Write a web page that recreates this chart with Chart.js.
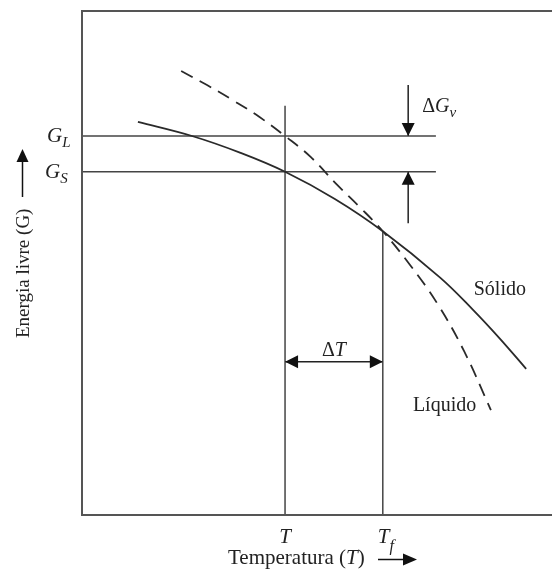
<!DOCTYPE html>
<html>
<head>
<meta charset="utf-8">
<script src="https://cdn.jsdelivr.net/npm/chart.js@4.4.1/dist/chart.umd.min.js"></script>
<style>
  html, body { margin: 0; padding: 0; background: #fff; overflow: hidden; }
</style>
</head>
<body>
<canvas id="chart" width="552" height="569"></canvas>
<script>
// free energy curves (T on x, G on y, arbitrary 0-100 units)
const solidT  = [11.9, 23.4, 33.6, 43.2, 53.8, 64.0, 76.2, 83.2, 88.9, 94.5];
const solidG  = [78.0, 75.2, 71.9, 68.1, 62.7, 56.3, 47.1, 40.7, 35.0, 29.0];
const liquidT = [21.1, 26.6, 32.1, 37.7, 43.2, 48.7, 54.3, 59.1, 64.0, 69.8, 75.5, 81.3, 87.0];
const liquidG = [88.1, 85.3, 82.3, 79.0, 75.2, 71.0, 65.5, 61.1, 56.3, 49.6, 42.1, 32.5, 20.8];

// reference levels
const levelG = [75.2, 68.1];     // G_L, G_S at T
const levelEnd = 75.3;           // where the G lines stop
const tempMarks = [43.2, 64.0];  // T, T_f
const tLineTop = 81.2;
const meltG = 56.3;              // curves cross at T_f

// arrows
const dgX = 69.4;
const dgTop = [85.3, 75.2];      // from, to
const dgBottom = [57.9, 68.1];
const dtY = 30.4;

const FONT = '"Liberation Serif", "DejaVu Serif", serif';
const INK = '#222';

const pts = (xs, ys) => xs.map((x, i) => ({ x: x, y: ys[i] }));
const seg = (x1, y1, x2, y2) => [{ x: x1, y: y1 }, { x: x2, y: y2 }];

function lineSet(data, extra) {
    return Object.assign({
        data: data,
        showLine: true,
        pointRadius: 0,
        borderColor: '#444',
        borderWidth: 1.5,
        tension: 0,
        fill: false
    }, extra || {});
}

// text made of several runs (regular / italic / subscript)
function richText(ctx, parts, x, y, align) {
    let total = 0;
    parts.forEach(p => {
        ctx.font = (p.italic ? 'italic ' : '') + p.size + 'px ' + FONT;
        p.w = ctx.measureText(p.t).width;
        total += p.w;
    });
    let cx = x;
    if (align === 'center') cx = x - total / 2;
    if (align === 'right') cx = x - total;
    ctx.textAlign = 'left';
    ctx.textBaseline = 'alphabetic';
    parts.forEach(p => {
        ctx.font = (p.italic ? 'italic ' : '') + p.size + 'px ' + FONT;
        ctx.fillText(p.t, cx, y + (p.dy || 0));
        cx += p.w;
    });
}

function arrowHead(ctx, tx, ty, dx, dy, len, half) {
    const px = -dy, py = dx;
    ctx.beginPath();
    ctx.moveTo(tx, ty);
    ctx.lineTo(tx - dx * len + px * half, ty - dy * len + py * half);
    ctx.lineTo(tx - dx * len - px * half, ty - dy * len - py * half);
    ctx.closePath();
    ctx.fill();
}

const decorations = {
    id: 'decorations',
    afterDatasetsDraw(chart) {
        const ctx = chart.ctx;
        const a = chart.chartArea;
        const xs = chart.scales.x, ys = chart.scales.y;
        const X = v => xs.getPixelForValue(v);
        const Y = v => ys.getPixelForValue(v);
        ctx.save();

        // frame (right side runs off the canvas)
        ctx.strokeStyle = '#555';
        ctx.lineWidth = 2;
        ctx.beginPath();
        ctx.moveTo(chart.width + 2, a.top);
        ctx.lineTo(a.left, a.top);
        ctx.lineTo(a.left, a.bottom);
        ctx.lineTo(chart.width + 2, a.bottom);
        ctx.stroke();

        // arrow heads
        ctx.fillStyle = '#111';
        arrowHead(ctx, X(dgX), Y(dgTop[1]), 0, 1, 13, 6.5);
        arrowHead(ctx, X(dgX), Y(dgBottom[1]), 0, -1, 13, 6.5);
        arrowHead(ctx, X(tempMarks[0]), Y(dtY), -1, 0, 13, 6.5);
        arrowHead(ctx, X(tempMarks[1]), Y(dtY), 1, 0, 13, 6.5);

        ctx.fillStyle = INK;
        // G levels
        richText(ctx, [{ t: 'G', italic: true, size: 21 }, { t: 'L', italic: true, size: 15, dy: 5 }],
            a.left - 35, Y(levelG[0]) + 6, 'left');
        richText(ctx, [{ t: 'G', italic: true, size: 21 }, { t: 'S', italic: true, size: 15, dy: 5 }],
            a.left - 37, Y(levelG[1]) + 6, 'left');

        // ΔG_v
        richText(ctx, [{ t: 'Δ', size: 20 }, { t: 'G', italic: true, size: 20 }, { t: 'v', italic: true, size: 15, dy: 5 }],
            X(dgX) + 14, Y(dgTop[1]) - 24, 'left');

        // ΔT
        richText(ctx, [{ t: 'Δ', size: 20 }, { t: 'T', italic: true, size: 20 }],
            (X(tempMarks[0]) + X(tempMarks[1])) / 2, Y(dtY) - 6, 'center');

        // curve names
        richText(ctx, [{ t: 'Sólido', size: 20 }], X(88.9), Y(43.7), 'center');
        richText(ctx, [{ t: 'Líquido', size: 20 }], X(70.4), Y(20.6), 'left');

        // T and T_f under the axis
        richText(ctx, [{ t: 'T', italic: true, size: 21 }], X(tempMarks[0]), a.bottom + 28, 'center');
        richText(ctx, [{ t: 'T', italic: true, size: 21 }, { t: 'f', italic: true, size: 16, dy: 8 }],
            X(tempMarks[1]) + 3, a.bottom + 28, 'center');

        // x axis title with arrow
        richText(ctx, [{ t: 'Temperatura (', size: 21 }, { t: 'T', italic: true, size: 21 }, { t: ')', size: 21 }],
            228, 564, 'left');
        ctx.strokeStyle = '#111';
        ctx.lineWidth = 1.5;
        ctx.beginPath();
        ctx.moveTo(378, 559.5);
        ctx.lineTo(410, 559.5);
        ctx.stroke();
        ctx.fillStyle = '#111';
        arrowHead(ctx, 417, 559.5, 1, 0, 14, 6);

        // y axis title with arrow
        ctx.save();
        ctx.translate(29, 338);
        ctx.rotate(-Math.PI / 2);
        ctx.fillStyle = INK;
        richText(ctx, [{ t: 'Energia livre (G)', size: 19 }], 0, 0, 'left');
        ctx.restore();
        ctx.beginPath();
        ctx.moveTo(22.5, 197);
        ctx.lineTo(22.5, 158);
        ctx.stroke();
        arrowHead(ctx, 22.5, 149, 0, -1, 13, 6);

        ctx.restore();
    }
};

new Chart(document.getElementById('chart'), {
    type: 'scatter',
    data: {
        datasets: [
            lineSet(pts(solidT, solidG), { borderColor: '#2a2a2a', borderWidth: 1.8, tension: 0.4 }),
            lineSet(pts(liquidT, liquidG), { borderColor: '#2a2a2a', borderWidth: 1.8, borderDash: [13, 8], tension: 0.4 }),
            lineSet(seg(0, levelG[0], levelEnd, levelG[0])),
            lineSet(seg(0, levelG[1], levelEnd, levelG[1])),
            lineSet(seg(tempMarks[0], 0, tempMarks[0], tLineTop)),
            lineSet(seg(tempMarks[1], 0, tempMarks[1], meltG)),
            lineSet(seg(dgX, dgTop[0], dgX, dgTop[1]), { borderColor: '#222' }),
            lineSet(seg(dgX, dgBottom[0], dgX, dgBottom[1]), { borderColor: '#222' }),
            lineSet(seg(tempMarks[0], dtY, tempMarks[1], dtY), { borderColor: '#222' })
        ]
    },
    options: {
        responsive: false,
        animation: false,
        layout: { padding: { left: 82, top: 11, right: 0, bottom: 54 } },
        plugins: { legend: { display: false }, tooltip: { enabled: false } },
        scales: {
            x: { type: 'linear', min: 0, max: 100, display: false },
            y: { type: 'linear', min: 0, max: 100, display: false }
        }
    },
    plugins: [decorations]
});
</script>
</body>
</html>
